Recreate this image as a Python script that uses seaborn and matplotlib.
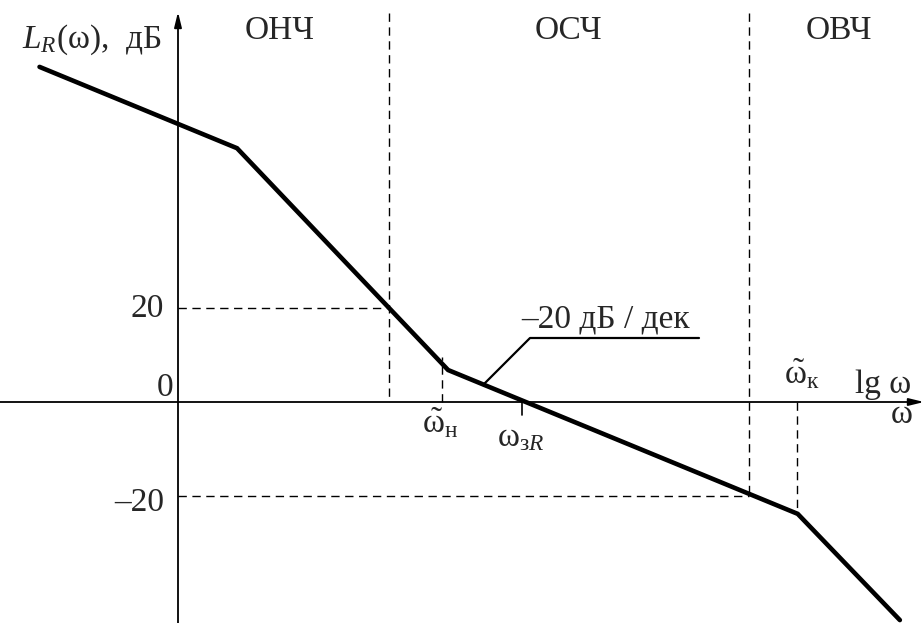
import numpy as np
import pandas as pd
import matplotlib
matplotlib.use("Agg")
import matplotlib.pyplot as plt
import seaborn as sns

# ---- data (lg ω in decades, L in dB) ----
lg_omega = [-0.61, 0.26, 1.19, 2.73, 3.18]
L_db = [71.3, 54.0, 6.8, -23.8, -46.4]

band_names = ["ОНЧ", "ОСЧ", "ОВЧ"]
band_bounds = [0.93, 2.515]          # boundaries between frequency bands
level_ticks = [20, 0, -20]
level_labels = ["20", "0", "–20"]
w_n = 1.165                           # ω̃н
w_k = 2.727                           # ω̃к
w_cR = 1.515                          # ω_зR

sns.set_style("white")
plt.rcParams["font.family"] = ["Liberation Serif", "DejaVu Serif"]
plt.rcParams["mathtext.fontset"] = "custom"
plt.rcParams["mathtext.rm"] = "Liberation Serif"
plt.rcParams["mathtext.it"] = "Liberation Serif:italic"
plt.rcParams["mathtext.bf"] = "Liberation Serif:bold"

W, H = 924, 623
fig = plt.figure(figsize=(W / 100, H / 100), dpi=100)
ax = fig.add_axes([0, 0, 1, 1])

# pixel <-> data mapping (for layout only)
PX0, PY0, PXD, PYD = 178.0, 402.0, 227.0, 94.0 / 20.0
def X(px):
    return (px - PX0) / PXD
def Y(py):
    return (PY0 - py) / PYD

ax.set_xlim(X(0), X(W))
ax.set_ylim(Y(H), Y(0))
ax.axis("off")

FS = 24

# main asymptotic characteristic
df = pd.DataFrame({"lg_omega": lg_omega, "L": L_db})
sns.lineplot(data=df, x="lg_omega", y="L", ax=ax, color="black", lw=3.3,
             sort=False, estimator=None, solid_joinstyle="miter")

# axes with arrows
ax.annotate("", xy=(0, Y(12)), xytext=(0, Y(H)),
            arrowprops=dict(arrowstyle="-|>,head_length=0.9,head_width=0.22",
                            color="black", lw=1.3, shrinkA=0, shrinkB=0))
ax.annotate("", xy=(X(W), 0), xytext=(X(0), 0),
            arrowprops=dict(arrowstyle="-|>,head_length=0.9,head_width=0.22",
                            color="black", lw=1.3, shrinkA=0, shrinkB=0))

dash = (0, (6, 4))
# band boundaries
for b in band_bounds:
    ax.plot([b, b], [Y(13), 0], color="black", lw=1.0, ls=dash)
ax.plot([band_bounds[1], band_bounds[1]], [0, -20], color="black", lw=1.0, ls=dash)
# level guides
ax.plot([0, band_bounds[0]], [20, 20], color="black", lw=1.0, ls=dash)
ax.plot([0, band_bounds[1]], [-20, -20], color="black", lw=1.0, ls=dash)
# ω̃н, ω̃к guides
ax.plot([w_n, w_n], [0, Y(357)], color="black", lw=1.0, ls=dash)
ax.plot([w_k, w_k], [0, Y(511)], color="black", lw=1.0, ls=dash)
# ω_зR tick
ax.plot([w_cR, w_cR], [0, Y(415)], color="black", lw=1.2)

# leader line for slope label
ax.plot([X(483), X(530), X(699)], [Y(385), Y(338), Y(338)], color="black", lw=1.6)

# texts
band_px = [280, 568, 839]
for name, px in zip(band_names, band_px):
    ax.text(X(px), Y(31), name, ha="center", va="center", fontsize=FS)

level_right = [164, 173, 164]
level_py = [309, 388, 503]
for lab, rx, py in zip(level_labels, level_right, level_py):
    ax.text(X(rx), Y(py), lab, ha="right", va="center", fontsize=FS)

ax.text(X(22), Y(48), r"$L_R$(ω),  дБ", ha="left", va="baseline", fontsize=FS)
ax.text(X(521), Y(328), "–20 дБ / дек", ha="left", va="baseline", fontsize=FS)
ax.text(X(422), Y(433), r"$\tilde{\mathrm{\omega}}_{\mathrm{н}}$", ha="left",
        va="baseline", fontsize=FS)
ax.text(X(497), Y(446), r"$\mathrm{\omega}_{\mathrm{з}R}$", ha="left",
        va="baseline", fontsize=FS)
ax.text(X(784), Y(384), r"$\tilde{\mathrm{\omega}}_{\mathrm{к}}$", ha="left",
        va="baseline", fontsize=FS)
ax.text(X(855), Y(393), "lg ω", ha="left", va="baseline", fontsize=FS)
ax.text(X(891), Y(423), "ω", ha="left", va="baseline", fontsize=FS)

fig.savefig("out.png", dpi=100, facecolor="white")
